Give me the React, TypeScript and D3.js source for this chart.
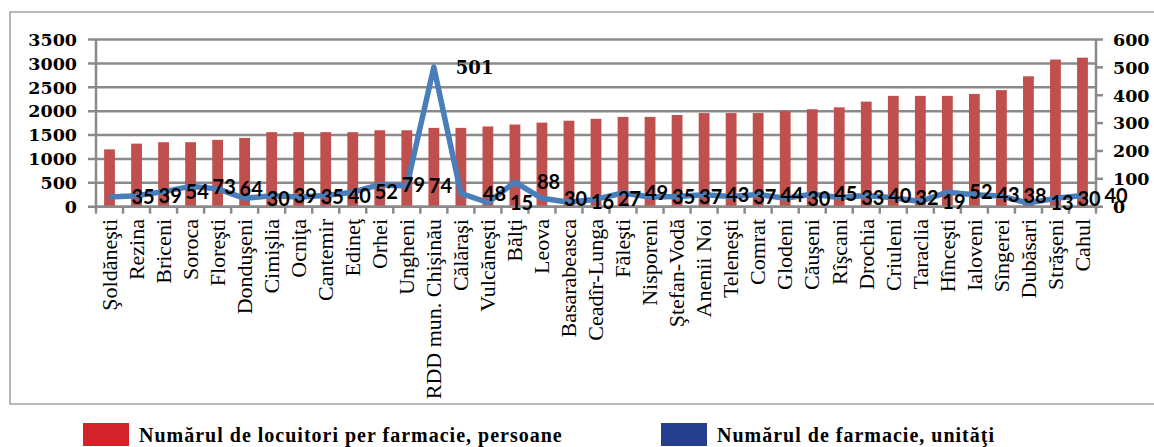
import React from "react";
import * as d3 from "d3";

const categories = [
  "Şoldăneşti", "Rezina", "Briceni", "Soroca", "Floreşti", "Donduşeni", "Cimişlia",
  "Ocniţa", "Cantemir", "Edineţ", "Orhei", "Ungheni", "RDD mun. Chişinău", "Călăraşi",
  "Vulcăneşti", "Bălţi", "Leova", "Basarabeasca", "Ceadîr-Lunga", "Făleşti", "Nisporeni",
  "Ştefan-Vodă", "Anenii Noi", "Teleneşti", "Comrat", "Glodeni", "Căuşeni", "Rîşcani",
  "Drochia", "Criuleni", "Taraclia", "Hînceşti", "Ialoveni", "Sîngerei", "Dubăsari",
  "Străşeni", "Cahul",
];

// locuitori per farmacie (left axis)
const residents = [
  1200, 1320, 1350, 1350, 1400, 1440, 1560, 1560, 1560, 1560, 1600, 1600, 1650, 1650,
  1680, 1720, 1760, 1800, 1840, 1880, 1880, 1920, 1960, 1960, 1960, 2000, 2040, 2080,
  2200, 2320, 2320, 2320, 2360, 2440, 2730, 3080, 3120,
];

// numarul de farmacii (right axis)
const pharmacies = [
  35, 39, 54, 73, 64, 30, 39, 35, 40, 52, 79, 74, 501, 48, 15, 88, 30, 16, 27, 49, 35,
  37, 43, 37, 44, 30, 45, 33, 40, 32, 19, 52, 43, 38, 13, 30, 40,
];

const leftTicks = [0, 500, 1000, 1500, 2000, 2500, 3000, 3500];
const rightTicks = [0, 100, 200, 300, 400, 500, 600];

const legendItems = [
  { label: "Numărul de locuitori per farmacie, persoane", color: "#d2232a" },
  { label: "Numărul de farmacie, unităţi", color: "#253f8e" },
];

const W = 1154;
const H = 447;
const left = 96;
const right = 1096;
const top = 39.5;
const bottom = 206.7;

const gridColor = "#8a8a8a";
const tickFont = "'DejaVu Serif', serif";

export default function App() {
  const x = d3.scaleBand<string>().domain(categories).range([left, right]).padding(0);
  const yL = d3.scaleLinear().domain([0, 3500]).range([bottom, top]);
  const yR = d3.scaleLinear().domain([0, 600]).range([bottom, top]);
  const bw = x.bandwidth();
  const cx = (c: string) => (x(c) ?? 0) + bw / 2;

  const line = d3
    .line<number>()
    .x((_, i) => cx(categories[i]))
    .y((d) => yR(d));

  const boundaries = d3.range(categories.length + 1).map((i) => left + i * bw);
  const legendX = [83, 661];

  return (
    <svg width={W} height={H} style={{ position: "absolute", left: 0, top: 0, background: "#fff" }}>
      <rect x={10} y={12} width={1160} height={392} fill="#fff" stroke="#a0a0a0" strokeWidth={1.5} />

      {/* gridlines + left ticks */}
      {leftTicks.map((t) => (
        <line key={"g" + t} x1={88} x2={right} y1={yL(t)} y2={yL(t)} stroke={gridColor} strokeWidth={2.5} />
      ))}

      {/* bars */}
      {categories.map((c, i) => (
        <rect
          key={c}
          x={cx(c) - bw * 0.2}
          width={bw * 0.4}
          y={yL(residents[i])}
          height={bottom - yL(residents[i])}
          fill="#c0504d"
        />
      ))}

      {/* axes */}
      <line x1={left} x2={left} y1={top} y2={bottom} stroke={gridColor} strokeWidth={2.5} />
      <line x1={right} x2={right} y1={top} y2={bottom} stroke={gridColor} strokeWidth={2.5} />
      <line x1={left} x2={right} y1={bottom} y2={bottom} stroke={gridColor} strokeWidth={2.5} />
      {boundaries.map((b, i) => (
        <line key={"xt" + i} x1={b} x2={b} y1={bottom} y2={bottom + 7} stroke={gridColor} strokeWidth={2.5} />
      ))}
      {rightTicks.map((t) => (
        <line key={"rt" + t} x1={right} x2={right + 7} y1={yR(t)} y2={yR(t)} stroke={gridColor} strokeWidth={2.5} />
      ))}

      {/* line */}
      <path d={line(pharmacies) ?? ""} fill="none" stroke="#4a7ebb" strokeWidth={5.5} strokeLinejoin="round" />

      {/* data labels */}
      {pharmacies.map((v, i) => (
        <text
          key={"dl" + i}
          x={(x(categories[i]) ?? 0) + bw * 0.5 + 22}
          y={yR(v)}
          dy="0.36em"
          fontFamily={v > 100 ? tickFont : "Lato, sans-serif"}
          fontWeight="bold"
          fontSize={v > 100 ? 18 : 20}
          fill="#000"
        >
          {v}
        </text>
      ))}

      {/* tick labels */}
      {leftTicks.map((t) => (
        <text key={"lt" + t} x={77} y={yL(t)} dy="0.36em" textAnchor="end" fontFamily={tickFont} fontWeight="bold" fontSize={17.5}>
          {t}
        </text>
      ))}
      {rightTicks.map((t) => (
        <text key={"rl" + t} x={1113} y={yR(t)} dy="0.36em" fontFamily={tickFont} fontWeight="bold" fontSize={17.5}>
          {t}
        </text>
      ))}

      {/* category labels */}
      {categories.map((c) => (
        <text
          key={"cl" + c}
          transform={`translate(${cx(c)},219) rotate(-90)`}
          dy="0.33em"
          textAnchor="end"
          fontFamily="'Liberation Serif', 'Times New Roman', serif"
          fontSize={22}
          fill="#000"
        >
          {c}
        </text>
      ))}

      {/* legend */}
      {legendItems.map((it, i) => (
        <g key={it.label} transform={`translate(${legendX[i]},423)`}>
          <rect width={46} height={23} fill={it.color} />
          <text x={56} y={19} fontFamily="'Liberation Serif', serif" fontWeight="bold" fontSize={20} letterSpacing={1}>
            {it.label}
          </text>
        </g>
      ))}
    </svg>
  );
}
